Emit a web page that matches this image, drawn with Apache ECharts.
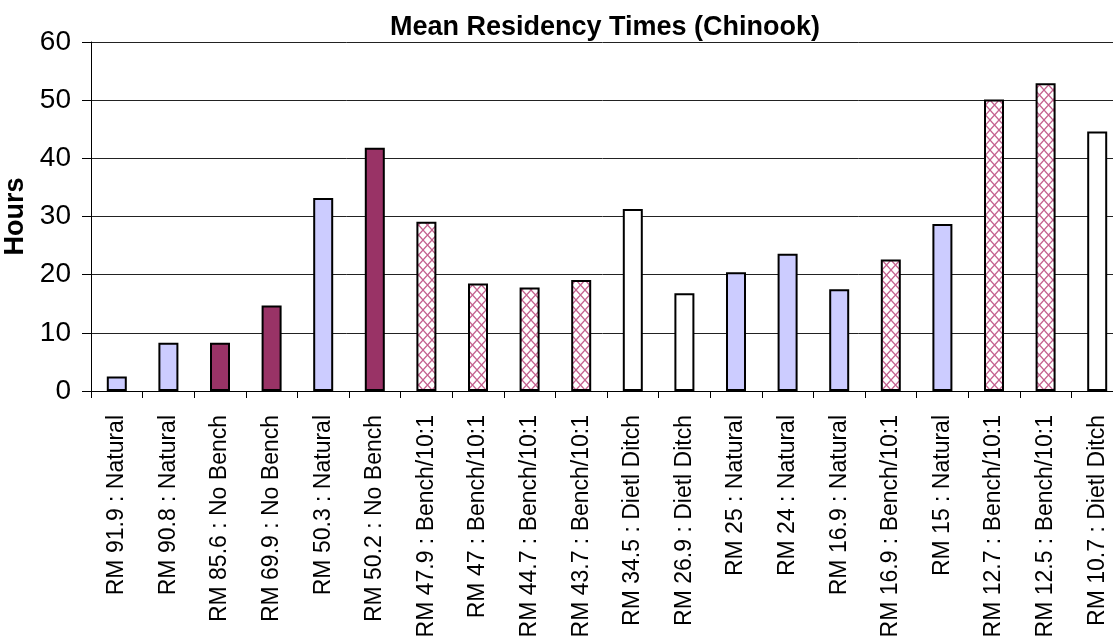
<!DOCTYPE html>
<html>
<head>
<meta charset="utf-8">
<script src="https://cdn.jsdelivr.net/npm/echarts@6/dist/echarts.min.js"></script>
<style>html,body{margin:0;padding:0;background:#fff;}#c{width:1113px;height:642px;}</style>
</head>
<body>
<div id="c"></div>
<script>
const categories = [
  "RM 91.9 : Natural", "RM 90.8 : Natural", "RM 85.6 : No Bench", "RM 69.9 : No Bench",
  "RM 50.3 : Natural", "RM 50.2 : No Bench", "RM 47.9 : Bench/10:1", "RM 47 : Bench/10:1",
  "RM 44.7 : Bench/10:1", "RM 43.7 : Bench/10:1", "RM 34.5 : Dietl Ditch", "RM 26.9 : Dietl Ditch",
  "RM 25 : Natural", "RM 24 : Natural", "RM 16.9 : Natural", "RM 16.9 : Bench/10:1",
  "RM 15 : Natural", "RM 12.7 : Bench/10:1", "RM 12.5 : Bench/10:1", "RM 10.7 : Dietl Ditch"
];
const hours = [2.5, 8.3, 8.3, 14.7, 33.2, 41.8, 29.1, 18.5, 17.8, 19.1,
               31.3, 16.8, 20.4, 23.6, 17.5, 22.6, 28.7, 50.1, 52.9, 44.6];
const yTicks = [0, 10, 20, 30, 40, 50, 60];

const FONT = "Arial, 'Liberation Sans', sans-serif";

// cross-hatch pattern
const PW = 9, PH = 10;
const pc = document.createElement('canvas');
pc.width = PW; pc.height = PH;
const g = pc.getContext('2d');
g.fillStyle = '#ffffff'; g.fillRect(0, 0, PW, PH);
g.strokeStyle = '#c4628f'; g.lineWidth = 1.3;
g.beginPath(); g.moveTo(0, 0); g.lineTo(PW, PH); g.moveTo(PW, 0); g.lineTo(0, PH); g.stroke();
const hatch = { image: pc, repeat: 'repeat' };

function fillFor(label) {
  if (label.indexOf('No Bench') >= 0) return '#993366';
  if (label.indexOf('Natural') >= 0) return '#ccccff';
  if (label.indexOf('Bench/10:1') >= 0) return hatch;
  return '#ffffff';
}

const data = hours.map((v, i) => ({ value: v, itemStyle: { color: fillFor(categories[i]) } }));

const chart = echarts.init(document.getElementById('c'));
chart.setOption({
  animation: false,
  backgroundColor: '#ffffff',
  title: {
    text: 'Mean Residency Times (Chinook)',
    left: 600, top: 9, textAlign: 'center',
    textStyle: { fontFamily: FONT, fontWeight: 'bold', fontSize: 27, color: '#000' }
  },
  grid: { left: 91, top: 42, width: 1032, height: 349, containLabel: false, outerBoundsMode: 'none' },
  xAxis: {
    type: 'category',
    data: categories,
    axisLine: { lineStyle: { color: '#000', width: 1 } },
    axisTick: { show: true, length: 7, lineStyle: { color: '#000' } },
    axisLabel: { rotate: 90, interval: 0, margin: 24, fontFamily: FONT, fontSize: 23, color: '#000' }
  },
  yAxis: {
    type: 'value', min: yTicks[0], max: yTicks[yTicks.length - 1], interval: 10,
    name: 'Hours', nameLocation: 'middle', nameGap: 50, nameRotate: 90,
    nameTextStyle: { fontFamily: FONT, fontWeight: 'bold', fontSize: 27, color: '#000' },
    axisLine: { show: true, lineStyle: { color: '#000', width: 1 } },
    axisTick: { show: true, length: 9, lineStyle: { color: '#000' } },
    axisLabel: { margin: 20, fontFamily: FONT, fontSize: 28, color: '#000' },
    splitLine: { show: true, lineStyle: { color: '#222', width: 1 } }
  },
  series: [{
    type: 'bar',
    data: data,
    barWidth: 20,
    itemStyle: { borderColor: '#000', borderWidth: 2 }
  }]
});
</script>
</body>
</html>
